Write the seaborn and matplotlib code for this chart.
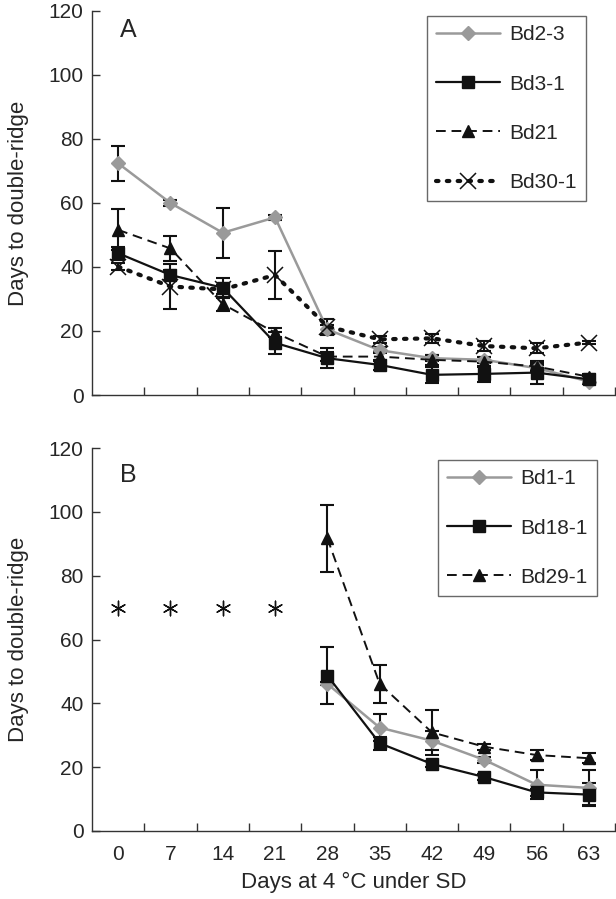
import numpy as np
import pandas as pd
import matplotlib
matplotlib.use("Agg")
import matplotlib.pyplot as plt
import seaborn as sns

days = [0, 7, 14, 21, 28, 35, 42, 49, 56, 63]

# Panel A
bd2_3 = [72.4, 60.0, 50.7, 55.5, 20.5, 14.0, 11.5, 11.0, 8.4, 4.2]
bd2_3_err = [5.5, 0.8, 7.8, 0.8, 1.5, 1.0, 1.0, 1.0, 1.0, 0.8]
bd3_1 = [44.3, 37.5, 33.5, 16.3, 11.5, 9.4, 6.3, 6.6, 7.0, 4.9]
bd3_1_err = [2.0, 1.5, 3.0, 3.5, 3.2, 1.5, 2.5, 2.5, 3.5, 1.0]
bd21 = [51.6, 45.8, 28.4, 19.5, 12.0, 12.0, 11.0, 10.4, 8.9, 5.7]
bd21_err = [6.4, 3.8, 2.0, 1.5, 1.5, 1.5, 1.5, 1.5, 1.0, 1.0]
bd30_1 = [40.1, 33.9, 33.0, 37.5, 21.4, 17.4, 17.7, 15.3, 14.6, 16.4]
bd30_1_err = [1.0, 7.0, 1.5, 7.5, 2.5, 1.0, 1.5, 1.5, 1.5, 0.5]

# Panel B
nan = np.nan
bd1_1 = [nan, nan, nan, nan, 46.1, 32.4, 28.3, 22.3, 14.5, 13.5]
bd1_1_err = [nan, nan, nan, nan, 0.5, 4.2, 3.0, 1.0, 4.5, 5.5]
bd18_1 = [nan, nan, nan, nan, 48.7, 27.5, 21.0, 16.9, 12.1, 11.4]
bd18_1_err = [nan, nan, nan, nan, 9.0, 2.0, 1.0, 1.0, 1.0, 3.6]
bd29_1 = [nan, nan, nan, nan, 91.7, 46.1, 30.9, 26.4, 23.8, 22.8]
bd29_1_err = [nan, nan, nan, nan, 10.5, 6.0, 7.0, 1.0, 1.5, 1.5]
asterisk_days = [0, 7, 14, 21]
asterisk_y = [70, 70, 70, 70]

sns.set_theme(style="white")
plt.rcParams['font.family'] = ['Liberation Sans', 'DejaVu Sans']

GRAY = "#9a9a9a"
BLACK = "#111111"
FS = 15

fig = plt.figure(figsize=(6.16, 8.99), dpi=100)
axA = fig.add_axes([92/616, 1-395/899, 523/616, 384/899])
axB = fig.add_axes([92/616, 1-831/899, 523/616, 383/899])

pos = {d: i for i, d in enumerate(days)}

def draw(ax, label, vals, errs, color, marker, ms, mew, mfc, lw, dash):
    df = pd.DataFrame({"x": [pos[d] for d in days], "y": vals, "e": errs}).dropna()
    ax.errorbar(df["x"], df["y"], yerr=df["e"], fmt="none", ecolor=BLACK,
                elinewidth=1.5, capsize=4.8, capthick=1.5, zorder=2)
    sns.lineplot(data=df, x="x", y="y", ax=ax, color=color, linewidth=lw,
                 marker=marker, markersize=ms, markeredgewidth=mew,
                 markerfacecolor=mfc, markeredgecolor=mfc if marker != "x" else color,
                 label=label, zorder=3, sort=False, dashes=dash)

# Panel A
draw(axA, "Bd2-3", bd2_3, bd2_3_err, GRAY, "D", 7.5, 1, GRAY, 1.8, (None, None))
draw(axA, "Bd3-1", bd3_1, bd3_1_err, BLACK, "s", 8.5, 1, BLACK, 1.6, (None, None))
draw(axA, "Bd21", bd21, bd21_err, BLACK, "^", 8.5, 1, BLACK, 1.4, (5, 3))
draw(axA, "Bd30-1", bd30_1, bd30_1_err, BLACK, "x", 11, 1.1, BLACK, 3.0, (0.6, 2.0))
for ln in axA.get_lines():
    if ln.get_label() == "Bd30-1":
        ln.set_dash_capstyle("round")

# Panel B
draw(axB, "Bd1-1", bd1_1, bd1_1_err, GRAY, "D", 7.5, 1, GRAY, 1.8, (None, None))
draw(axB, "Bd18-1", bd18_1, bd18_1_err, BLACK, "s", 8.5, 1, BLACK, 1.6, (None, None))
draw(axB, "Bd29-1", bd29_1, bd29_1_err, BLACK, "^", 8.5, 1, BLACK, 1.4, (5, 3))
axB.scatter([pos[d] for d in asterisk_days], asterisk_y, marker=(6, 2, 0), s=110,
            color=BLACK, linewidths=1.0, zorder=3)

for ax, letter, ly in [(axA, "A", 0.95), (axB, "B", 0.93)]:
    ax.set_xlim(-0.5, len(days) - 0.5)
    ax.set_ylim(0, 120)
    ax.set_yticks([0, 20, 40, 60, 80, 100, 120])
    ax.set_xticks(np.arange(0.5, len(days), 1.0))
    ax.set_xticklabels([])
    ax.set_xticks(np.arange(len(days)), minor=True)
    ax.tick_params(axis="both", which="major", direction="in", length=6, width=1.0,
                   color="#333333", labelsize=FS, pad=6, left=True, bottom=True)
    ax.tick_params(axis="x", which="minor", length=0, labelsize=FS, pad=10, bottom=True)
    for s in ["top", "right"]:
        ax.spines[s].set_visible(False)
    for s in ["left", "bottom"]:
        ax.spines[s].set_color("#333333")
        ax.spines[s].set_linewidth(1.0)
    ax.set_ylabel("Days to double-ridge", fontsize=16, labelpad=14)
    ax.set_xlabel("")
    ax.text(0.069, ly, letter, transform=ax.transAxes, fontsize=18,
            ha="center", va="center")

axA.set_xticklabels([], minor=True)
axB.set_xticklabels([str(d) for d in days], minor=True)
axB.set_xlabel("Days at 4 °C under SD", fontsize=16, labelpad=6)

for ax, anchor in [(axA, (0.9446, 0.987)), (axB, (0.9656, 0.9687))]:
    leg = ax.legend(loc="upper right", bbox_to_anchor=anchor, fontsize=FS,
                    frameon=True, fancybox=False, edgecolor="#444444", handlelength=3.05,
                    labelspacing=1.45, borderpad=0.45, handletextpad=0.45,
                    borderaxespad=0)
    leg.get_frame().set_linewidth(1.0)

fig.savefig("out.png", dpi=100)
